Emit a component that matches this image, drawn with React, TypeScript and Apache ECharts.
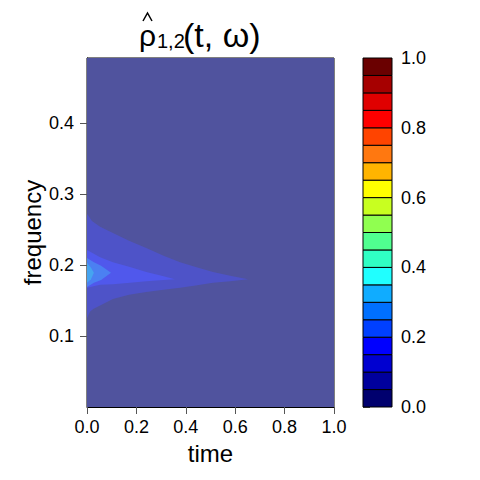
import React, { useEffect, useRef } from "react";
import * as echarts from "echarts";

// ---- data ----
const timeTicks = [0, 0.2, 0.4, 0.6, 0.8, 1.0];
const freqTicks = [0.1, 0.2, 0.3, 0.4];
const freqMax = 0.4915;

// contour level edges for the colour bar
const levelEdges = [
  0, 0.05, 0.1, 0.15, 0.2, 0.25, 0.3, 0.35, 0.4, 0.45, 0.5,
  0.55, 0.6, 0.65, 0.7, 0.75, 0.8, 0.85, 0.9, 0.95, 1.0,
];
const levelColors = [
  "#00006e", "#00009c", "#0000d0", "#0000ff", "#0040ff",
  "#0070ff", "#10acff", "#20ffff", "#30ffc4", "#50ff90",
  "#90ff50", "#c8ff20", "#ffff00", "#ffb400", "#ff7810",
  "#ff4400", "#ff0000", "#e00000", "#a60000", "#6a0000",
];

// filled contour regions (time, frequency) boundaries
const band0Upper = [[0, freqMax], [1, freqMax]];
const band0Lower = [[0, 0], [1, 0]];

const band1Upper = [
  [0, 0.272], [0.02, 0.262], [0.053, 0.254], [0.105, 0.245], [0.17, 0.234],
  [0.24, 0.224], [0.31, 0.213], [0.377, 0.204], [0.44, 0.197], [0.51, 0.19],
  [0.58, 0.185], [0.652, 0.18],
];
const band1Lower = [
  [0, 0.125], [0.012, 0.134], [0.025, 0.138], [0.053, 0.143], [0.105, 0.152],
  [0.17, 0.158], [0.24, 0.162], [0.31, 0.165], [0.377, 0.168], [0.44, 0.171],
  [0.51, 0.175], [0.58, 0.177], [0.652, 0.18],
];

const band2Upper = [
  [0, 0.221], [0.053, 0.211], [0.105, 0.204], [0.174, 0.197], [0.24, 0.19],
  [0.31, 0.184], [0.356, 0.18],
];
const band2Lower = [
  [0, 0.168], [0.053, 0.172], [0.105, 0.173], [0.174, 0.175], [0.24, 0.177],
  [0.31, 0.179], [0.356, 0.18],
];

const band3Upper = [[0, 0.21], [0.028, 0.204], [0.057, 0.199], [0.097, 0.189]];
const band3Lower = [[0, 0.169], [0.028, 0.175], [0.057, 0.179], [0.097, 0.189]];

const band4Upper = [[0, 0.203], [0.016, 0.196], [0.028, 0.189]];
const band4Lower = [[0, 0.175], [0.016, 0.18], [0.028, 0.189]];

const bandUppers = [band0Upper, band1Upper, band2Upper, band3Upper, band4Upper];
const bandLowers = [band0Lower, band1Lower, band2Lower, band3Lower, band4Lower];
const bandColors = ["#50539e", "#4e53c8", "#5058ec", "#4b80f2", "#45a4f0"];

const FONT = "'Liberation Sans', Arial, Helvetica, sans-serif";

export default function App() {
  const ref = useRef<HTMLDivElement>(null);

  useEffect(() => {
    if (!ref.current) return;
    const chart = echarts.init(ref.current, null, { renderer: "svg" });

    const contourData = bandColors.map((_, i) => [i]);
    const barData = levelColors.map((_, i) => [levelEdges[i], levelEdges[i + 1], i]);

    const option: any = {
      animation: false,
      backgroundColor: "#ffffff",
      textStyle: { fontFamily: FONT },
      grid: [
        {
          left: 87, right: 146, top: 58, bottom: 73,
          show: true, borderColor: "#000", borderWidth: 1,
          backgroundColor: "transparent",
        },
        { left: 363, right: 88, top: 58, bottom: 73 },
      ],
      xAxis: [
        {
          type: "value", gridIndex: 0, min: 0, max: 1, interval: 0.2,
          name: "time", nameLocation: "middle", nameGap: 34, nameMoveOverlap: false,
          nameTextStyle: { fontSize: 24, color: "#000", fontFamily: FONT },
          axisLine: { show: true, lineStyle: { color: "#000" } },
          axisTick: { show: true, length: 7, lineStyle: { color: "#555" } },
          axisLabel: {
            fontSize: 18, color: "#000", margin: 11, fontFamily: FONT,
            formatter: (v: number) => v.toFixed(1),
          },
          splitLine: { show: false },
        },
        { type: "value", gridIndex: 1, min: 0, max: 1, show: false },
      ],
      yAxis: [
        {
          type: "value", gridIndex: 0, min: 0, max: freqMax,
          name: "frequency", nameLocation: "middle", nameGap: 43, nameMoveOverlap: false,
          nameTextStyle: { fontSize: 24, color: "#000", fontFamily: FONT },
          axisLine: { show: true, lineStyle: { color: "#000" } },
          axisTick: { show: true, length: 7, customValues: freqTicks, lineStyle: { color: "#555" } },
          axisLabel: {
            fontSize: 18, color: "#000", margin: 13, fontFamily: FONT,
            customValues: freqTicks,
            formatter: (v: number) => v.toFixed(1),
          },
          splitLine: { show: false },
        },
        {
          type: "value", gridIndex: 1, min: 0, max: 1, interval: 0.2, position: "right",
          axisLine: { show: false },
          axisTick: { show: true, length: 7, lineStyle: { color: "#555" } },
          axisLabel: {
            fontSize: 18, color: "#000", margin: 9, fontFamily: FONT,
            formatter: (v: number) => v.toFixed(1),
          },
          splitLine: { show: false },
        },
      ],
      series: [
        {
          type: "custom",
          xAxisIndex: 0, yAxisIndex: 0,
          clip: true,
          data: contourData,
          renderItem: (params: any, api: any) => {
            const i = params.dataIndex;
            const pts = [
              ...bandUppers[i],
              ...bandLowers[i].slice().reverse(),
            ].map((p) => api.coord(p));
            return {
              type: "polygon",
              shape: { points: pts },
              style: { fill: bandColors[i], stroke: null },
            };
          },
        },
        {
          type: "custom",
          xAxisIndex: 1, yAxisIndex: 1,
          data: barData,
          renderItem: (params: any, api: any) => {
            const lo = api.value(0);
            const hi = api.value(1);
            const idx = api.value(2);
            const p1 = api.coord([0, hi]);
            const p2 = api.coord([1, lo]);
            return {
              type: "rect",
              shape: { x: p1[0], y: p1[1], width: p2[0] - p1[0], height: p2[1] - p1[1] },
              style: { fill: levelColors[idx], stroke: "#000", lineWidth: 1 },
            };
          },
        },
      ],
      graphic: [
        {
          type: "polyline",
          shape: { points: [[143, 21], [147.5, 13], [152, 21]] },
          style: { stroke: "#000", lineWidth: 1.5, fill: null },
        },
        {
          type: "text", x: 139, y: 35,
          style: { text: "ρ", font: `30px ${FONT}`, fill: "#000", align: "left", verticalAlign: "middle" },
        },
        {
          type: "text", x: 157, y: 41,
          style: { text: "1,2", font: `20px ${FONT}`, fill: "#000", align: "left", verticalAlign: "middle" },
        },
        {
          type: "text", x: 183, y: 35,
          style: { text: "(t, ω)", font: `34px ${FONT}`, fill: "#000", align: "left", verticalAlign: "middle" },
        },
      ],
    };

    chart.setOption(option);
    return () => chart.dispose();
  }, []);

  return <div ref={ref} style={{ width: 480, height: 480, margin: -8 }} />;
}
